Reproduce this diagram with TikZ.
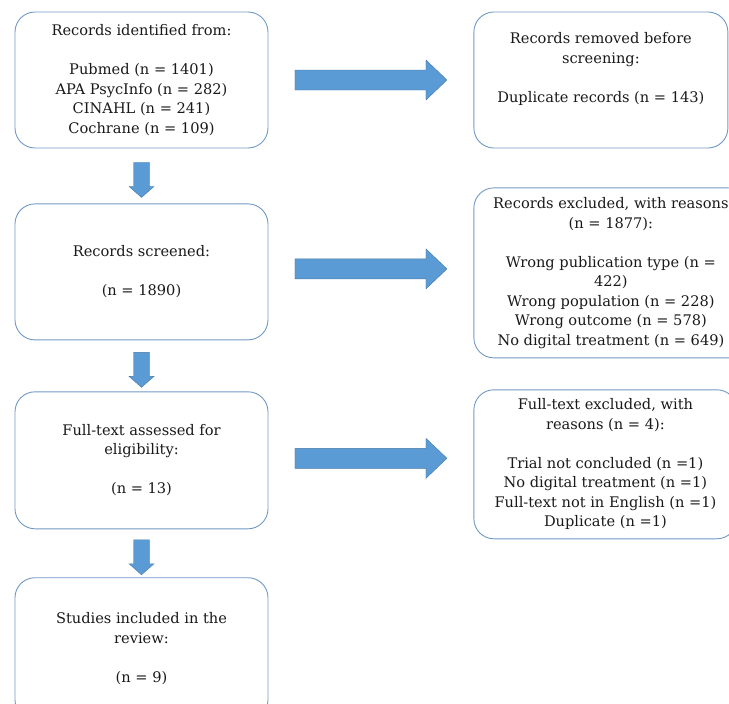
\documentclass[tikz,border=0pt]{standalone}
\usepackage{fontspec}
\setmainfont{DejaVu Serif}
\usetikzlibrary{positioning,calc}
\definecolor{bordecaja}{RGB}{112,152,196}
\definecolor{azulflecha}{RGB}{91,155,213}
\definecolor{bordeflecha}{RGB}{70,120,165}
\definecolor{textocaja}{RGB}{25,25,25}

\begin{document}
\begin{tikzpicture}[x=1pt, y=-1pt,
    caja/.style={draw=bordecaja, line width=0.9pt, rounded corners=20pt, align=center,
                 font=\fontsize{14.6}{19.5}\selectfont, text=textocaja, inner sep=3pt,
                 minimum width=253pt, minimum height=136pt},
    flecha/.style={fill=azulflecha, draw=bordeflecha, line width=0.4pt},
    flechader/.pic={\draw[flecha] (-76,-10) -- (55,-10) -- (55,-20) -- (76,0)
                    -- (55,20) -- (55,10) -- (-76,10) -- cycle;},
    flechaaba/.pic={\draw[flecha] (-8,-17.5) -- (8,-17.5) -- (8,6.5) -- (12.5,6.5)
                    -- (0,17.5) -- (-12.5,6.5) -- (-8,6.5) -- cycle;}]
  \clip (0,0) rectangle (729,704);
  % columna izquierda
  \node[caja] (ident) at (141.5,80) {%
    Records identified from:\\[19.5pt]
    Pubmed (n = 1401)\\ APA PsycInfo (n = 282)\\ CINAHL (n = 241)\\ Cochrane (n = 109)};
  \node[caja, below=55pt of ident] (cribado) {%
    Records screened:\\[19.5pt] (n = 1890)};
  \node[caja, below=51pt of cribado, minimum height=137pt] (completo) {%
    Full-text assessed for\\ eligibility:\\[19.5pt] (n = 13)};
  \node[caja, below=48pt of completo, minimum height=142pt] (incluidos) {%
    Studies included in the\\ review:\\[19.5pt] (n = 9)};
  % columna derecha
  \node[caja, right=205pt of ident, minimum width=254pt] (removidos) {%
    Records removed before\\ screening:\\[19.5pt] Duplicate records (n = 143)\\[6pt]\mbox{}};
  \node[caja, right=205pt of cribado, yshift=-1pt, minimum width=274pt, minimum height=170pt] (excluidos) {%
    Records excluded, with reasons\\ (n = 1877):\\[19.5pt]
    Wrong publication type (n =\\ 422)\\ Wrong population (n = 228)\\
    Wrong outcome (n = 578)\\ No digital treatment (n = 649)};
  \node[caja, right=205pt of completo, yshift=-4pt, minimum width=263pt, minimum height=149pt] (textoexcl) {%
    Full-text excluded, with\\ reasons (n = 4):\\[19.5pt]
    Trial not concluded (n =1)\\ No digital treatment (n =1)\\
    Full-text not in English (n =1)\\ Duplicate (n =1)};
  % flechas
  \pic at ($(ident.south)!0.5!(cribado.north)+(0,4)$) {flechaaba};
  \pic at ($(cribado.south)!0.5!(completo.north)+(0,4)$) {flechaaba};
  \pic at ($(completo.south)!0.5!(incluidos.north)+(0,4)$) {flechaaba};
  \pic at ($(ident.east)!0.5!(ident.east -| removidos.west)$) {flechader};
  \pic at ($(cribado.east)!0.5!(cribado.east -| excluidos.west)+(0,-3)$) {flechader};
  \pic at ($(completo.east)!0.5!(completo.east -| textoexcl.west)+(0,-2)$) {flechader};
\end{tikzpicture}
\end{document}
